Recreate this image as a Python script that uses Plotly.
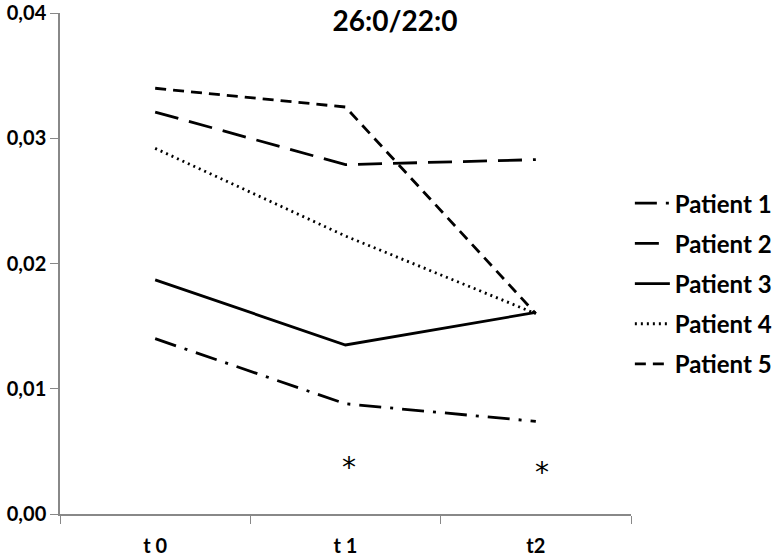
import plotly.graph_objects as go

categories = ["t 0", "t 1", "t2"]
patient_names = ["Patient 1", "Patient 2", "Patient 3", "Patient 4", "Patient 5"]
patient_1 = [0.0140, 0.0088, 0.0074]
patient_2 = [0.0321, 0.0279, 0.0283]
patient_3 = [0.0187, 0.0135, 0.0161]
patient_4 = [0.0292, 0.0222, 0.0160]
patient_5 = [0.0340, 0.0325, 0.0160]
y_tickvals = [0.0, 0.01, 0.02, 0.03, 0.04]
y_ticktext = ["0,00", "0,01", "0,02", "0,03", "0,04"]
sig_categories = ["t 1", "t2"]
sig_y = [0.0037, 0.0033]

series = [patient_1, patient_2, patient_3, patient_4, patient_5]
dashes = ["22px,9px,3px,9px", "24px,11px", "solid", "2px,4px", "11px,7px"]

fig = go.Figure()
for i, (name, vals, dash) in enumerate(zip(patient_names, series, dashes)):
    fig.add_trace(go.Scatter(
        x=categories, y=vals, name="<b>%s</b>" % name, mode="lines",
        legendgroup="g%d" % i,
        line=dict(color="black", width=2.8, dash=dash),
    ))

for c, yv, xs in zip(sig_categories, sig_y, [3, 6]):
    fig.add_annotation(x=c, y=yv, text="*", showarrow=False, xshift=xs,
                       font=dict(size=28, color="black", family="DejaVu Sans"))

fig.update_layout(
    width=776, height=558,
    paper_bgcolor="white", plot_bgcolor="white",
    margin=dict(l=60, r=145, t=13, b=44, autoexpand=False),
    title=dict(text="<b>26:0/22:0</b>", x=0.509, xanchor="center", y=0.962, yanchor="middle",
               font=dict(size=28, color="black", family="Lato")),
    font=dict(family="Lato", color="black"),
    showlegend=True,
    legend=dict(x=0.998, xanchor="left", y=0.46, yanchor="middle",
                font=dict(size=24, color="black", family="Lato"),
                itemwidth=35, tracegroupgap=6, bgcolor="rgba(0,0,0,0)"),
    xaxis=dict(type="category", range=[-0.5, 2.5], showline=True, linecolor="#888888",
               linewidth=1.5, ticks="outside", tickson="boundaries", ticklen=8,
               tickcolor="#888888", showgrid=False, zeroline=False,
               tickvals=categories, ticktext=["<b>%s</b>" % c for c in categories],
               tickfont=dict(size=20, family="Lato", color="black"),
               ticklabelstandoff=13, automargin=False),
    yaxis=dict(range=[0, 0.04001], tickvals=y_tickvals,
               ticktext=["<b>%s</b>" % t for t in y_ticktext],
               showline=True, linecolor="#888888", linewidth=1.5, ticks="outside",
               ticklen=8, tickcolor="#888888", showgrid=False, zeroline=False,
               tickfont=dict(size=20, family="Lato", color="black"),
               ticklabeloverflow="allow", automargin=False),
)

fig.write_html("out.html", config={"displayModeBar": False},
               post_script="document.body.style.margin='0';")
